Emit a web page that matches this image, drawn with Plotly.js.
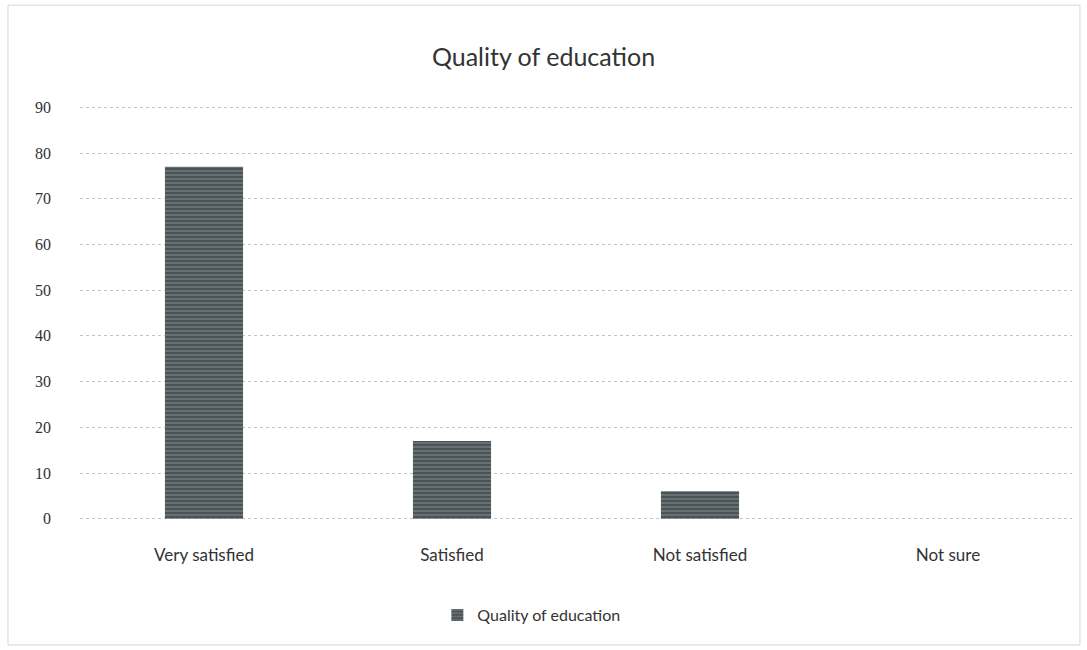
<!DOCTYPE html>
<html>
<head>
<meta charset="utf-8">
<script src="https://cdn.plot.ly/plotly-3.0.1.min.js"></script>
<style>html,body{margin:0;padding:0;background:#fff;}#chart{width:1087px;height:650px;}</style>
</head>
<body>
<div id="chart"></div>
<script>
const categories = ["Very satisfied", "Satisfied", "Not satisfied", "Not sure"];
const values = [77, 17, 6, 0];
const seriesName = "Quality of education";
const chartTitle = "Quality of education";
const yTicks = [0, 10, 20, 30, 40, 50, 60, 70, 80, 90];

const trace = {
  type: "bar",
  x: categories,
  y: values,
  name: seriesName,
  showlegend: true,
  marker: {
    color: "#4f5a5d",
    line: {width: 0},
    pattern: {shape: "-", fgcolor: "#7a8486", bgcolor: "#4a5457", size: 4, solidity: 0.3}
  }
};

const layout = {
  width: 1087, height: 650,
  paper_bgcolor: "#ffffff", plot_bgcolor: "#ffffff",
  margin: {l: 80, r: 15, t: 105, b: 129},
  title: {text: chartTitle, x: 0.5, xanchor: "center", y: 0.912, yanchor: "middle",
          font: {family: "Lato, 'Open Sans', sans-serif", size: 25, color: "#333"}},
  bargap: 0.685,
  xaxis: {
    type: "category",
    showgrid: false, zeroline: false, showline: false, ticks: "",
    ticklabelstandoff: 22,
    tickfont: {family: "Lato, 'Open Sans', sans-serif", size: 17, color: "#333"}
  },
  yaxis: {
    range: [-0.5, 90.5], tickvals: yTicks,
    showgrid: true, gridcolor: "#c4c4c4", griddash: "dot", gridwidth: 1,
    zeroline: false, showline: false, ticks: "",
    ticklabelstandoff: 28,
    tickfont: {family: "'Liberation Serif', serif", size: 16, color: "#333"}
  },
  legend: {orientation: "h", x: 0.455, xanchor: "center", y: -0.226, yanchor: "middle",
           font: {family: "Lato, 'Open Sans', sans-serif", size: 16, color: "#333"}},
  shapes: [{type: "rect", xref: "paper", yref: "paper", x0: -0.0726, x1: 1.008, y0: -0.298, y1: 1.240,
            line: {color: "#d6d6d6", width: 1}, fillcolor: "rgba(0,0,0,0)", layer: "below"}]
};

Plotly.newPlot("chart", [trace], layout, {displayModeBar: false, staticPlot: true});
</script>
</body>
</html>
